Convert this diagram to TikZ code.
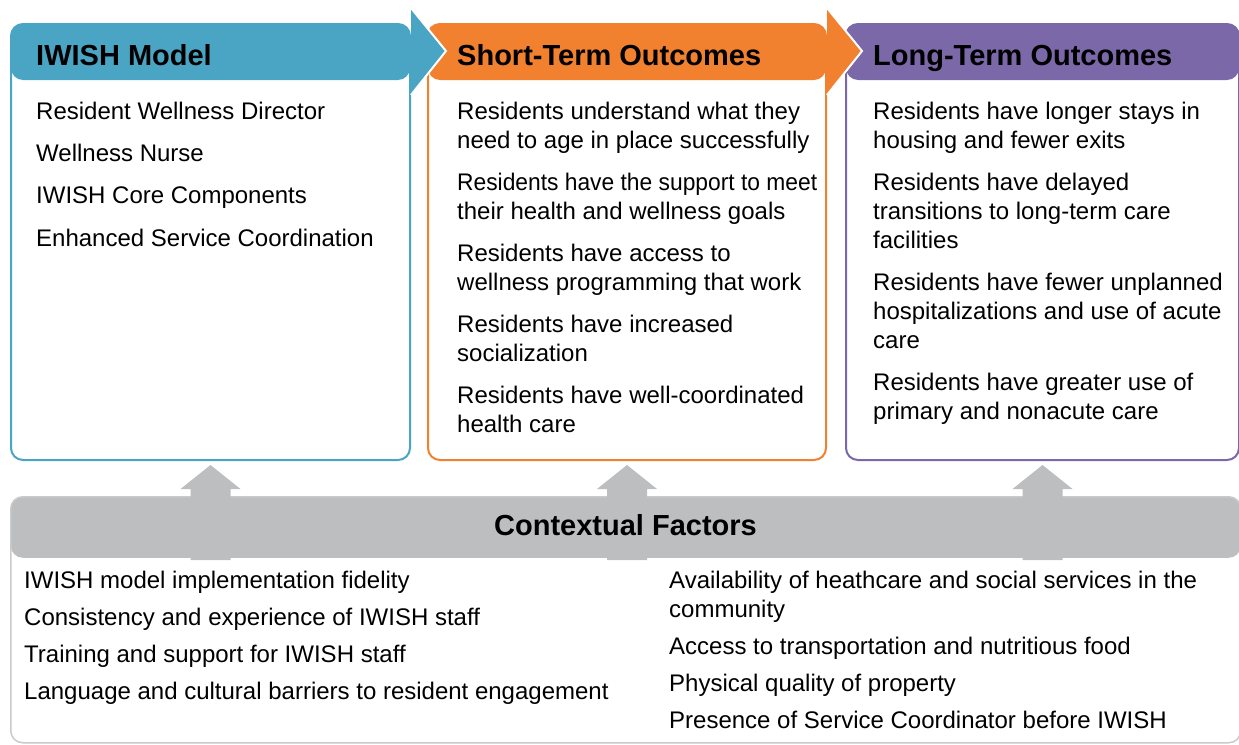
\documentclass[tikz,border=0pt]{standalone}
\usepackage{fontspec}
\usepackage{graphicx}
\setmainfont{Liberation Sans}
\usetikzlibrary{calc}
\definecolor{iwblue}{HTML}{4AA5C4}
\definecolor{iworange}{HTML}{F1802F}
\definecolor{iwpurple}{HTML}{7B68A8}
\definecolor{iwgray}{HTML}{BDBEC0}
\definecolor{iwedge}{HTML}{C9CACC}
% stacked lines whose baseline is the first line
\newcommand\stacklines[1]{\vtop{\halign{##\hfil\cr#1\crcr}}}
\begin{document}
\begin{tikzpicture}[x=1pt,y=-1pt,
  stagebox/.style={draw=#1, line width=2pt, rounded corners=12pt,
    anchor=north west, minimum height=436pt, inner sep=0pt,
    path picture={\fill[#1] (path picture bounding box.north west)
      rectangle ([yshift=-56pt]path picture bounding box.north east);}},
  ctxstyle/.style={draw=iwedge, line width=1.5pt, rounded corners=12pt,
    anchor=north west, minimum width=1230pt, minimum height=246pt, inner sep=0pt,
    path picture={\fill[iwgray] (path picture bounding box.north west)
      rectangle ([yshift=-61pt]path picture bounding box.north east);}},
  headtxt/.style={inner sep=0pt, font=\fontsize{29}{34}\selectfont\bfseries},
  itemtxt/.style={anchor=base west, inner sep=0pt,
    font=\fontsize{24}{29}\selectfont},
  headarrow/.style={fill=#1, draw=white, line width=2pt, line join=miter},
  uparrow/.style={fill=iwgray},
]
\useasboundingbox (0,0) rectangle (1239,744);

% stage boxes with coloured header bands
\node[stagebox=iwblue, minimum width=399pt] (modelbox) at (10,23) {};
\node[stagebox=iworange, minimum width=398pt] (shortbox) at (427,23) {};
\node[stagebox=iwpurple, minimum width=393pt] (longbox) at (845,23) {};

% arrow heads joining the header bands
\filldraw[headarrow=iwblue] ([yshift=15pt]modelbox.north east)
  -- ([shift={(35pt,-28pt)}]modelbox.north east)
  -- ([yshift=-72pt]modelbox.north east);
\filldraw[headarrow=iworange] ([yshift=15pt]shortbox.north east)
  -- ([shift={(35pt,-28pt)}]shortbox.north east)
  -- ([yshift=-72pt]shortbox.north east);

% headers
\node[headtxt, anchor=base west] (hmodel) at (36,65) {IWISH Model};
\node[headtxt, anchor=base west] (hshort) at (457,65) {Short-Term Outcomes};
\node[headtxt, anchor=base west] (hlong) at (873,65) {Long-Term Outcomes};

% IWISH model components
\node[itemtxt] (m1) at (36,119) {Resident Wellness Director};
\node[itemtxt] (m2) at (36,161) {Wellness Nurse};
\node[itemtxt] (m3) at (36,203.5) {IWISH Core Components};
\node[itemtxt] (m4) at (36,246) {Enhanced Service Coordination};

% short-term outcomes
\node[itemtxt] (s1) at (457,119) {\stacklines{Residents understand what they\cr need to age in place successfully}};
\node[itemtxt] (s2) at (457,190) {\stacklines{\scalebox{0.95}[1]{Residents have the support to meet}\cr their health and wellness goals}};
\node[itemtxt] (s3) at (457,261) {\stacklines{Residents have access to\cr wellness programming that work}};
\node[itemtxt] (s4) at (457,332) {\stacklines{Residents have increased\cr socialization}};
\node[itemtxt] (s5) at (457,403) {\stacklines{Residents have well-coordinated\cr health care}};

% long-term outcomes
\node[itemtxt] (l1) at (873,119) {\stacklines{Residents have longer stays in\cr housing and fewer exits}};
\node[itemtxt] (l2) at (873,190) {\stacklines{Residents have delayed\cr transitions to long-term care\cr facilities}};
\node[itemtxt] (l3) at (873,290) {\stacklines{Residents have fewer unplanned\cr hospitalizations and use of acute\cr care}};
\node[itemtxt] (l4) at (873,390) {\stacklines{Residents have greater use of\cr primary and nonacute care}};

% contextual factors panel
\node[ctxstyle] (ctxbox) at (10,496) {};

% upward arrows from the panel into each stage box
\foreach \b/\n in {modelbox/ua1, shortbox/ua2, longbox/ua3}{
  \coordinate (\n) at ($(\b.south)+(0,4)$);
  \fill[uparrow] (\n) -- ++(30,24) -- ++(-10,0) -- ++(0,71) -- ++(-40,0)
    -- ++(0,-71) -- ++(-10,0) -- cycle;
}

\node[headtxt, anchor=base] (hctx) at (625.5,535) {Contextual Factors};

\node[itemtxt] (c1) at (24,588.5) {IWISH model implementation fidelity};
\node[itemtxt] (c2) at (24,625.5) {Consistency and experience of IWISH staff};
\node[itemtxt] (c3) at (24,662.5) {Training and support for IWISH staff};
\node[itemtxt] (c4) at (24,699.5) {Language and cultural barriers to resident engagement};

\node[itemtxt] (c5) at (669,588.5) {\stacklines{Availability of heathcare and social services in the\cr community}};
\node[itemtxt] (c6) at (669,654.5) {Access to transportation and nutritious food};
\node[itemtxt] (c7) at (669,691.5) {Physical quality of property};
\node[itemtxt] (c8) at (669,728.5) {Presence of Service Coordinator before IWISH};
\end{tikzpicture}
\end{document}
